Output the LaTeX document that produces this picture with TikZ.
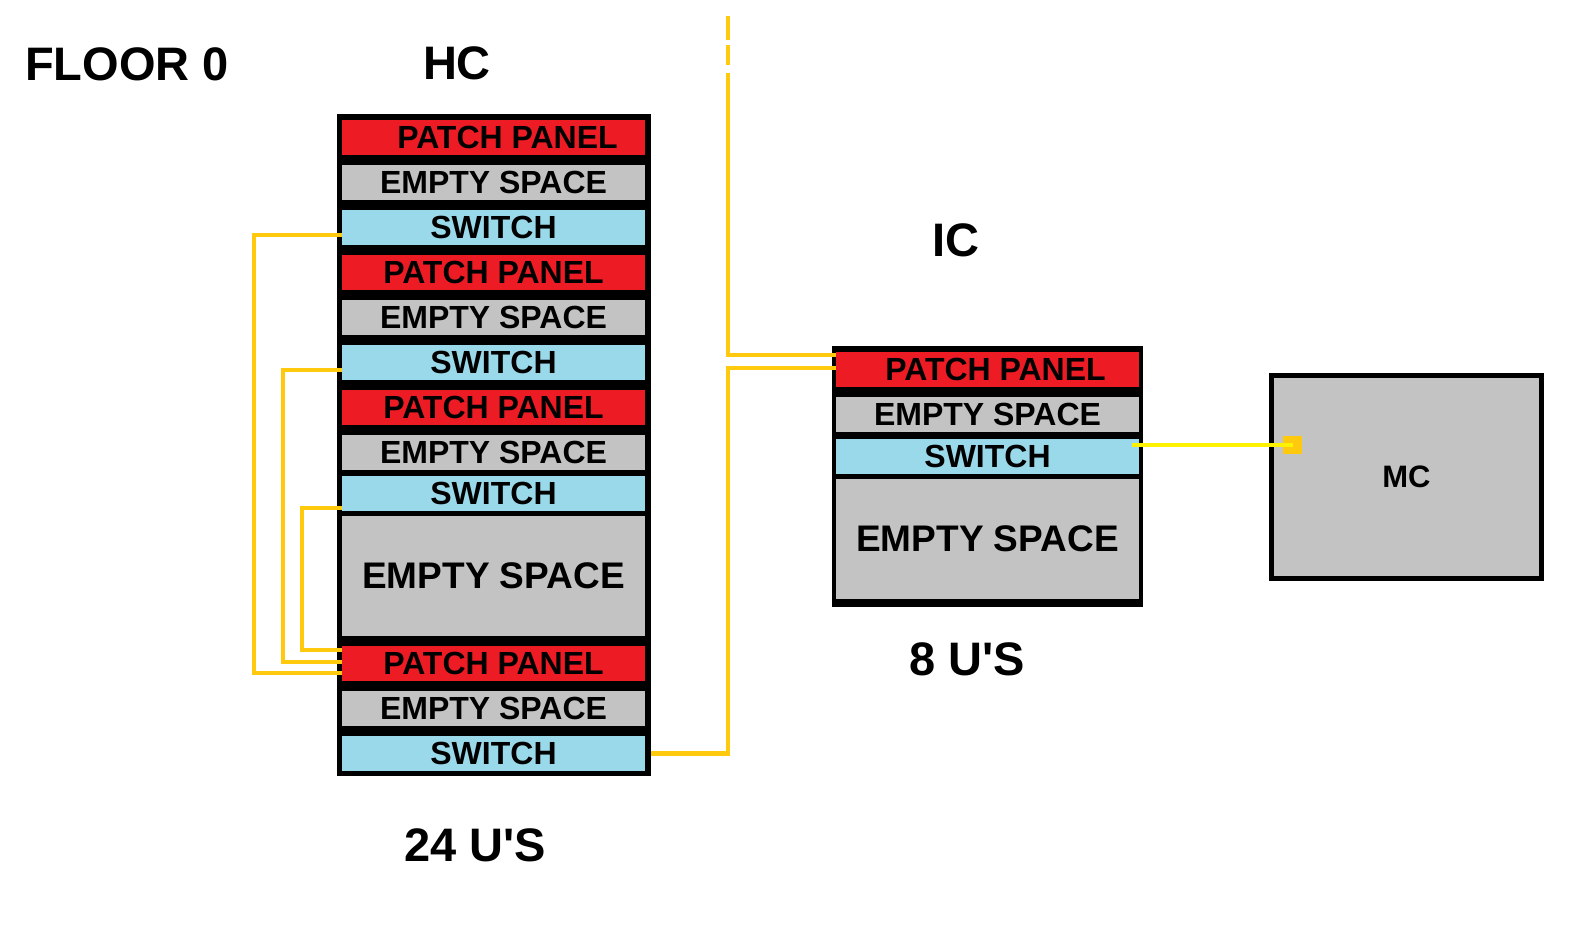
\documentclass[tikz,border=0pt]{standalone}
\usepackage{fontspec}
\setmainfont{Liberation Sans}
\usetikzlibrary{positioning}
\definecolor{ppred}{HTML}{ED1C24}
\definecolor{esgray}{HTML}{C3C3C3}
\definecolor{swblue}{HTML}{99D9EA}
\definecolor{cablegold}{HTML}{FFC90E}
\definecolor{cableyellow}{HTML}{FFF200}
\tikzset{
  rack/.style={fill=black, anchor=north west, inner sep=0pt, outer sep=0pt},
  unit/.style={anchor=north west, minimum width=303pt, minimum height=35pt, inner sep=0pt, outer sep=0pt, font=\fontsize{32}{32}\selectfont\bfseries},
  pp/.style={unit, fill=ppred},
  es/.style={unit, fill=esgray},
  sw/.style={unit, fill=swblue},
  bigsp/.style={es, minimum height=120pt, font=\fontsize{37}{37}\selectfont\bfseries},
  ttl/.style={font=\fontsize{47}{47}\selectfont\bfseries, inner sep=0pt},
  mcbox/.style={draw=black, line width=5pt, fill=esgray, minimum width=270pt, minimum height=203pt, inner sep=0pt, font=\fontsize{31}{31}\selectfont\bfseries},
  port/.style={fill=cablegold, minimum width=19pt, minimum height=18pt, inner sep=0pt},
  olink/.style={draw=cablegold, line width=4.5pt},
  ylink/.style={draw=cableyellow, line width=4.5pt},
}
\begin{document}
\begin{tikzpicture}[x=1pt, y=-1pt, node distance=10pt]
\fill[white] (0,0) rectangle (1582,952);
\useasboundingbox (0,0) rectangle (1582,952);
% titles
\node[ttl] (floor) at (127,64) {FLOOR 0};
\node[ttl] (hclbl) at (457,63) {HC};
\node[ttl] (iclbl) at (956,240) {IC};
\node[ttl] (hcsize) at (475,845) {24 U\textquotesingle S};
\node[ttl] (icsize) at (967,659) {8 U\textquotesingle S};
% HC rack
\node[rack, minimum width=314pt, minimum height=662pt] (hc) at (337,114) {};
\node[pp] (pp1) at (342,120) {\hspace*{28pt}PATCH PANEL};
\node[es, below=of pp1] (es1) {EMPTY SPACE};
\node[sw, below=of es1] (sw1) {SWITCH};
\node[pp, below=of sw1] (pp2) {PATCH PANEL};
\node[es, below=of pp2] (es2) {EMPTY SPACE};
\node[sw, below=of es2] (sw2) {SWITCH};
\node[pp, below=of sw2] (pp3) {PATCH PANEL};
\node[es, below=of pp3] (es3) {EMPTY SPACE};
\node[sw, below=6pt of es3] (sw3) {SWITCH};
\node[bigsp, below=5pt of sw3] (es4) {EMPTY SPACE};
\node[pp, below=of es4] (pp4) {PATCH PANEL};
\node[es, below=of pp4] (es5) {EMPTY SPACE};
\node[sw, below=of es5] (sw4) {SWITCH};
% IC rack
\node[rack, minimum width=311pt, minimum height=261pt] (ic) at (832,346) {};
\node[pp] (ipp) at (836,352) {\hspace*{16pt}PATCH PANEL};
\node[es, below=of ipp] (ies1) {EMPTY SPACE};
\node[sw, below=7pt of ies1] (isw) {SWITCH};
\node[bigsp, below=5pt of isw] (ies2) {EMPTY SPACE};
% MC
\node[mcbox] (mc) at (1406.5,477) {MC};
\node[port] (mcport) at (1292.5,445) {};
% cables
\coordinate (feed) at (728,16);
\draw[olink] ([yshift=-7.5pt]sw1.west) -- ++(-88,0) |- ([yshift=-9.5pt]pp4.west);
\draw[olink] ([yshift=-7.5pt]sw2.west) -- ++(-59,0) |- ([yshift=1.5pt]pp4.west);
\draw[olink] ([yshift=-14.5pt]sw3.west) -- ++(-40,0) |- ([yshift=13.5pt]pp4.west);
\draw[olink] (sw4 -| hc.east) -- ++(77,0) |- ([yshift=1.5pt]ipp.west);
\draw[olink, dash pattern=on 24pt off 5pt on 20pt off 8pt on 900pt] (feed) |- ([yshift=14.5pt]ipp.west);
\draw[ylink] ([xshift=-7pt]isw.east |- mcport) -- (mcport.center);
\end{tikzpicture}
\end{document}
